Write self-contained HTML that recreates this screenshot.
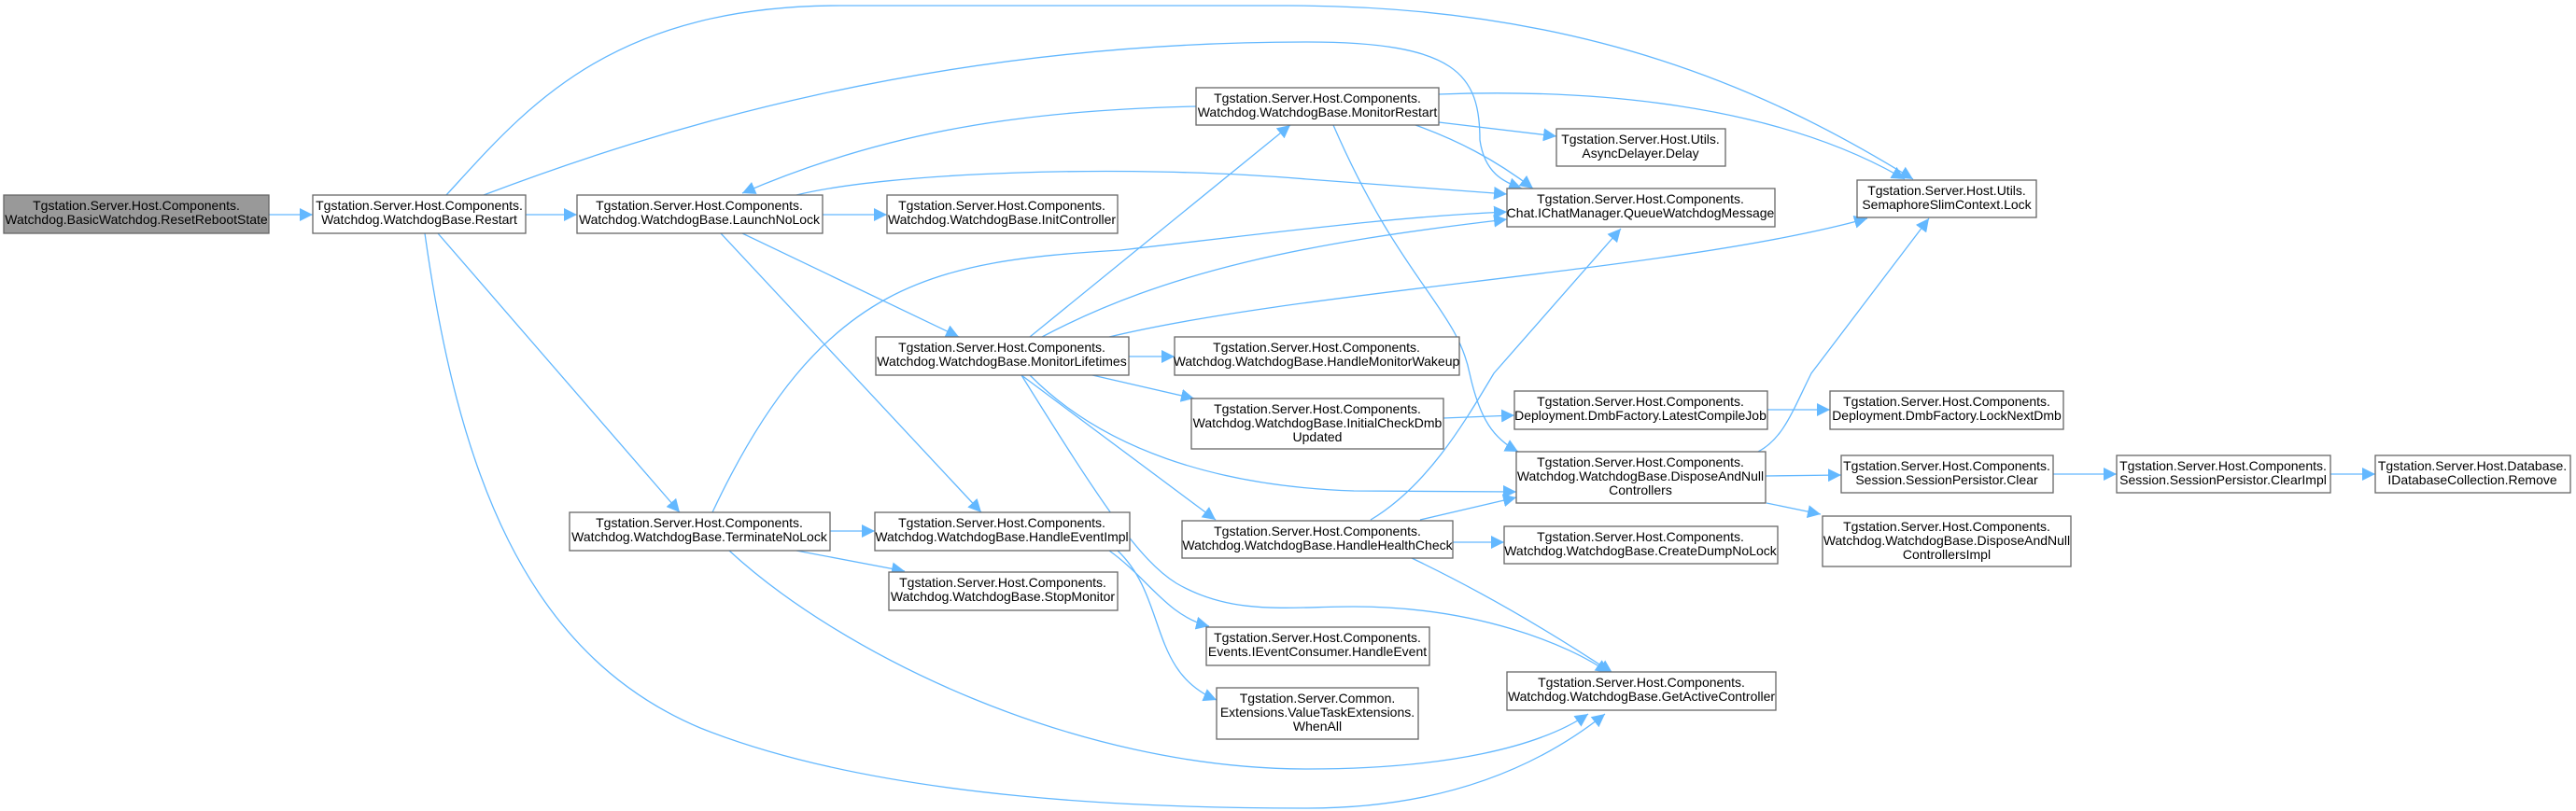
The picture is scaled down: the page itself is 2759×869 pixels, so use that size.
<!DOCTYPE html>
<html><head><meta charset="utf-8"><style>
html,body{margin:0;padding:0;background:#fff;}
svg{display:block;}
text{font-family:"Liberation Sans",Arial,sans-serif;font-size:14px;fill:#000;}
.n{fill:#fff;stroke:#666;stroke-width:1.3;}
.e{fill:none;stroke:#63b8ff;stroke-width:1.3;}
</style></head><body>
<svg width="2759" height="869" viewBox="0 0 2759 869" xmlns="http://www.w3.org/2000/svg">
<defs><marker id="a" viewBox="0 0 10 10" refX="10" refY="5" markerWidth="14" markerHeight="14" markerUnits="userSpaceOnUse" orient="auto"><path d="M0,0L10,5L0,10z" fill="#63b8ff"/></marker></defs>
<g class="e" marker-end="url(#a)">
<path d="M288,230L335,230"/>
<path d="M563,230L618,230"/>
<path d="M881,230L950,230"/>
<path d="M478,209C560,120 650,6 900,6L1380,6C1700,6 1900,100 2049,192"/>
<path d="M518,209C700,140 1000,45 1400,45C1560,45 1585,80 1585,150C1590,185 1610,195 1630,202"/>
<path d="M853,209C950,185 1200,175 1400,192L1614,208"/>
<path d="M1281,114C1100,118 950,140 795,207"/>
<path d="M1516,134C1560,150 1600,170 1642,202"/>
<path d="M1541,101C1700,95 1900,110 2040,192"/>
<path d="M1541,131L1667,146"/>
<path d="M1428,134C1500,300 1560,330 1574,400C1585,450 1600,470 1626,484"/>
<path d="M795,250L1027,361"/>
<path d="M772,250L1051,549"/>
<path d="M469,250L728,549"/>
<path d="M455,250C490,500 560,700 750,780C950,860 1250,866 1400,866C1550,866 1650,820 1719,765"/>
<path d="M763,549C880,300 1000,280 1200,268C1400,245 1500,232 1614,227"/>
<path d="M889,569L937,569"/>
<path d="M853,590L969,612"/>
<path d="M781,590C900,700 1150,824 1400,824C1550,824 1650,800 1701,765"/>
<path d="M1188,590C1230,620 1250,660 1295,671"/>
<path d="M1197,590C1250,640 1230,720 1303,750"/>
<path d="M1103,361L1382,134"/>
<path d="M1116,361C1250,290 1400,260 1614,235"/>
<path d="M1188,361C1400,310 1800,290 2000,234"/>
<path d="M1209,382L1258,382"/>
<path d="M1170,402L1279,427"/>
<path d="M1103,402C1180,480 1300,521 1450,526L1624,527"/>
<path d="M1094,402L1302,557"/>
<path d="M1094,402C1180,540 1220,600 1260,625C1320,660 1380,650 1450,650C1580,650 1680,690 1723,721"/>
<path d="M1546,448L1622,445"/>
<path d="M1893,439L1960,439"/>
<path d="M1883,484C1910,470 1920,440 1940,400L2066,234"/>
<path d="M1891,510L1972,509"/>
<path d="M1892,539L1950,551"/>
<path d="M2199,508L2267,508"/>
<path d="M2496,508L2544,508"/>
<path d="M1468,557C1530,520 1570,450 1600,400L1736,245"/>
<path d="M1521,557L1624,533"/>
<path d="M1556,581L1611,581"/>
<path d="M1512,598C1600,640 1680,690 1727,721"/>
</g>
<g text-anchor="middle">
<rect x="4" y="209" width="284" height="41" fill="#999" stroke="#666" stroke-width="1.3"/>
<text x="146" y="225">Tgstation.Server.Host.Components.</text><text x="146" y="240">Watchdog.BasicWatchdog.ResetRebootState</text>
<rect class="n" x="335" y="209" width="228" height="41"/>
<text x="449" y="225">Tgstation.Server.Host.Components.</text><text x="449" y="240">Watchdog.WatchdogBase.Restart</text>
<rect class="n" x="618" y="209" width="263" height="41"/>
<text x="749" y="225">Tgstation.Server.Host.Components.</text><text x="749" y="240">Watchdog.WatchdogBase.LaunchNoLock</text>
<rect class="n" x="950" y="209" width="247" height="41"/>
<text x="1073" y="225">Tgstation.Server.Host.Components.</text><text x="1073" y="240">Watchdog.WatchdogBase.InitController</text>
<rect class="n" x="938" y="361" width="271" height="41"/>
<text x="1073" y="377">Tgstation.Server.Host.Components.</text><text x="1073" y="392">Watchdog.WatchdogBase.MonitorLifetimes</text>
<rect class="n" x="610" y="549" width="279" height="41"/>
<text x="749" y="565">Tgstation.Server.Host.Components.</text><text x="749" y="580">Watchdog.WatchdogBase.TerminateNoLock</text>
<rect class="n" x="937" y="549" width="273" height="41"/>
<text x="1073" y="565">Tgstation.Server.Host.Components.</text><text x="1073" y="580">Watchdog.WatchdogBase.HandleEventImpl</text>
<rect class="n" x="952" y="613" width="245" height="41"/>
<text x="1074" y="629">Tgstation.Server.Host.Components.</text><text x="1074" y="644">Watchdog.WatchdogBase.StopMonitor</text>
<rect class="n" x="1281" y="94" width="260" height="40"/>
<text x="1411" y="110">Tgstation.Server.Host.Components.</text><text x="1411" y="125">Watchdog.WatchdogBase.MonitorRestart</text>
<rect class="n" x="1258" y="361" width="305" height="41"/>
<text x="1410" y="377">Tgstation.Server.Host.Components.</text><text x="1410" y="392">Watchdog.WatchdogBase.HandleMonitorWakeup</text>
<rect class="n" x="1276" y="427" width="270" height="54"/>
<text x="1411" y="443">Tgstation.Server.Host.Components.</text><text x="1411" y="458">Watchdog.WatchdogBase.InitialCheckDmb</text><text x="1411" y="473">Updated</text>
<rect class="n" x="1266" y="558" width="290" height="40"/>
<text x="1411" y="574">Tgstation.Server.Host.Components.</text><text x="1411" y="589">Watchdog.WatchdogBase.HandleHealthCheck</text>
<rect class="n" x="1292" y="672" width="239" height="41"/>
<text x="1411" y="688">Tgstation.Server.Host.Components.</text><text x="1411" y="703">Events.IEventConsumer.HandleEvent</text>
<rect class="n" x="1303" y="737" width="216" height="55"/>
<text x="1411" y="753">Tgstation.Server.Common.</text><text x="1411" y="768">Extensions.ValueTaskExtensions.</text><text x="1411" y="783">WhenAll</text>
<rect class="n" x="1667" y="138" width="181" height="40"/>
<text x="1757" y="154">Tgstation.Server.Host.Utils.</text><text x="1757" y="169">AsyncDelayer.Delay</text>
<rect class="n" x="1614" y="202" width="287" height="41"/>
<text x="1757" y="218">Tgstation.Server.Host.Components.</text><text x="1757" y="233">Chat.IChatManager.QueueWatchdogMessage</text>
<rect class="n" x="1989" y="193" width="192" height="40"/>
<text x="2085" y="209">Tgstation.Server.Host.Utils.</text><text x="2085" y="224">SemaphoreSlimContext.Lock</text>
<rect class="n" x="1622" y="419" width="271" height="41"/>
<text x="1757" y="435">Tgstation.Server.Host.Components.</text><text x="1757" y="450">Deployment.DmbFactory.LatestCompileJob</text>
<rect class="n" x="1960" y="419" width="250" height="41"/>
<text x="2085" y="435">Tgstation.Server.Host.Components.</text><text x="2085" y="450">Deployment.DmbFactory.LockNextDmb</text>
<rect class="n" x="1624" y="484" width="267" height="55"/>
<text x="1757" y="500">Tgstation.Server.Host.Components.</text><text x="1757" y="515">Watchdog.WatchdogBase.DisposeAndNull</text><text x="1757" y="530">Controllers</text>
<rect class="n" x="1972" y="488" width="227" height="40"/>
<text x="2085" y="504">Tgstation.Server.Host.Components.</text><text x="2085" y="519">Session.SessionPersistor.Clear</text>
<rect class="n" x="2267" y="488" width="229" height="40"/>
<text x="2381" y="504">Tgstation.Server.Host.Components.</text><text x="2381" y="519">Session.SessionPersistor.ClearImpl</text>
<rect class="n" x="2544" y="488" width="209" height="40"/>
<text x="2648" y="504">Tgstation.Server.Host.Database.</text><text x="2648" y="519">IDatabaseCollection.Remove</text>
<rect class="n" x="1952" y="553" width="266" height="54"/>
<text x="2085" y="569">Tgstation.Server.Host.Components.</text><text x="2085" y="584">Watchdog.WatchdogBase.DisposeAndNull</text><text x="2085" y="599">ControllersImpl</text>
<rect class="n" x="1611" y="564" width="293" height="40"/>
<text x="1757" y="580">Tgstation.Server.Host.Components.</text><text x="1757" y="595">Watchdog.WatchdogBase.CreateDumpNoLock</text>
<rect class="n" x="1614" y="720" width="288" height="41"/>
<text x="1758" y="736">Tgstation.Server.Host.Components.</text><text x="1758" y="751">Watchdog.WatchdogBase.GetActiveController</text>
</g>
</svg>
</body></html>
